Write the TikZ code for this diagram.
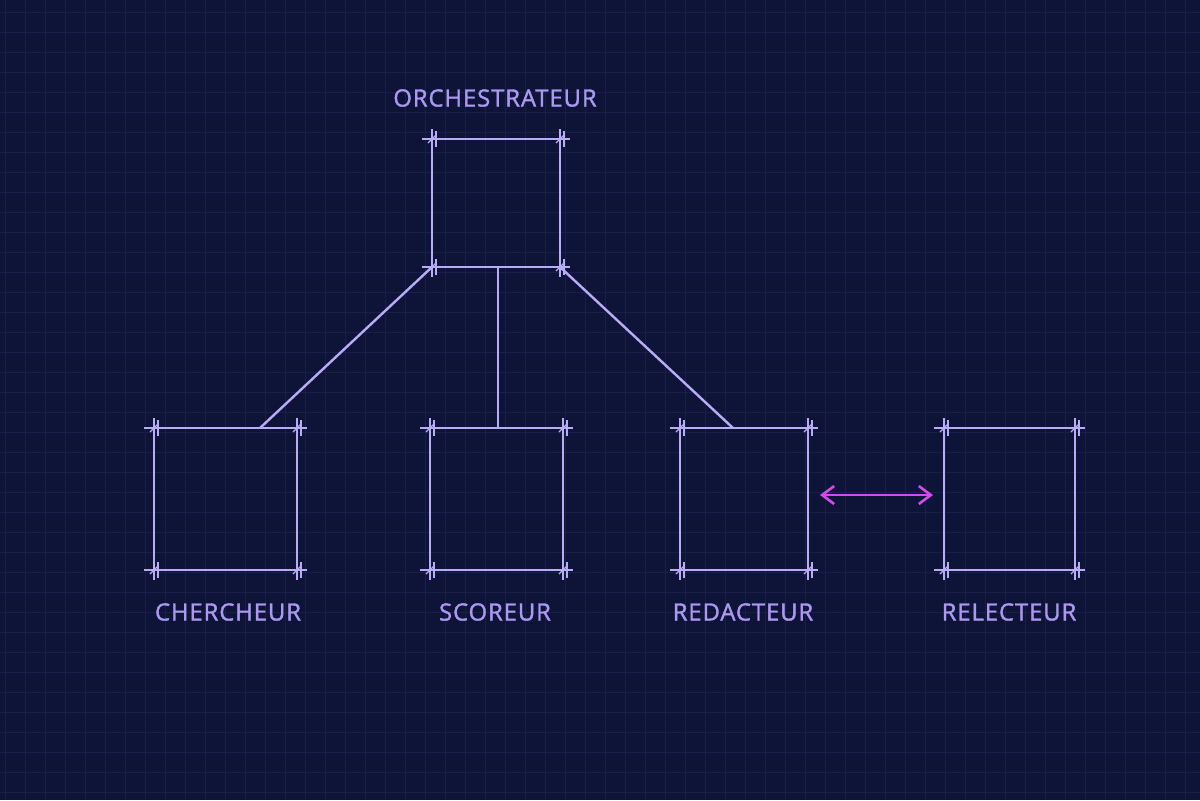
\documentclass[tikz,border=0pt]{standalone}
\usepackage{fontspec}
\setmainfont{Open Sans}
\usetikzlibrary{arrows.meta}
\definecolor{bg}{HTML}{0D1437}
\definecolor{gridc}{HTML}{172049}
\definecolor{lav}{HTML}{B8ACF6}
\definecolor{labc}{HTML}{AC98F2}
\definecolor{mag}{HTML}{D24AF0}
\tikzset{
  frame/.style={draw=lav, line width=1.3pt},
  tick/.style={draw=lav, line width=0.6pt},
  conn/.style={draw=lav, line width=1.2pt},
  lbl/.style={text=labc, font=\fontsize{11.9}{13}\selectfont\addfontfeature{LetterSpace=4,FakeBold=1.5}, inner sep=0pt},
}
\newcommand{\bpbox}[5]{% name, x1, y1, x2, y2
  \coordinate (#1-nw) at (#2,#3);
  \coordinate (#1-se) at (#4,#5);
  \coordinate (#1-ne) at (#4,#3);
  \coordinate (#1-sw) at (#2,#5);
  \draw[frame] ({#2-10},#3) -- ({#4+10},#3);
  \draw[frame] ({#2-10},#5) -- ({#4+10},#5);
  \draw[frame] (#2,{#3-10}) -- (#2,{#5+10});
  \draw[frame] (#4,{#3-10}) -- (#4,{#5+10});
  \foreach \cx in {#2,#4}{\foreach \cy in {#3,#5}{
    \draw[tick] ({\cx-4},{\cy+4}) -- ({\cx+4},{\cy-4});
    \draw[tick] ({\cx+4},{\cy-8}) -- ({\cx+4},{\cy+8});
  }}
}
\begin{document}
\begin{tikzpicture}[x=0.5pt,y=-0.5pt]
\fill[bg] (0,0) rectangle (1200,800);
\useasboundingbox (0,0) rectangle (1200,800);
\foreach \i in {5,25,...,1200} \draw[gridc, line width=0.5pt] (\i,0) -- (\i,800);
\foreach \j in {12,32,...,800} \draw[gridc, line width=0.5pt] (0,\j) -- (1200,\j);

\bpbox{orc}{432}{139}{560}{267}
\bpbox{che}{154}{428}{297}{570}
\bpbox{sco}{430}{428}{563}{570}
\bpbox{red}{680}{428}{808}{570}
\bpbox{rel}{944}{428}{1075}{570}

\node[lbl] (lorc) at (495,98) {ORCHESTRATEUR};
\node[lbl] (lche) at (228,612) {CHERCHEUR};
\node[lbl] (lsco) at (495,612) {SCOREUR};
\node[lbl] (lred) at (743,612) {REDACTEUR};
\node[lbl] (lrel) at (1009,612) {RELECTEUR};

\coordinate (orcb) at (498,267);
\coordinate (cheT) at (260,428);
\coordinate (scoT) at (498,428);
\coordinate (redT) at (733,428);
\draw[conn] (orc-sw) -- (cheT);
\draw[conn] (orcb) -- (scoT);
\draw[conn] (orc-se) -- (redT);

\coordinate (aL) at (820,495);
\coordinate (aR) at (933,495);
\draw[mag, line width=1.3pt, {Straight Barb[length=6pt,width=9pt]}-{Straight Barb[length=6pt,width=9pt]}] (aL) -- (aR);
\end{tikzpicture}
\end{document}
